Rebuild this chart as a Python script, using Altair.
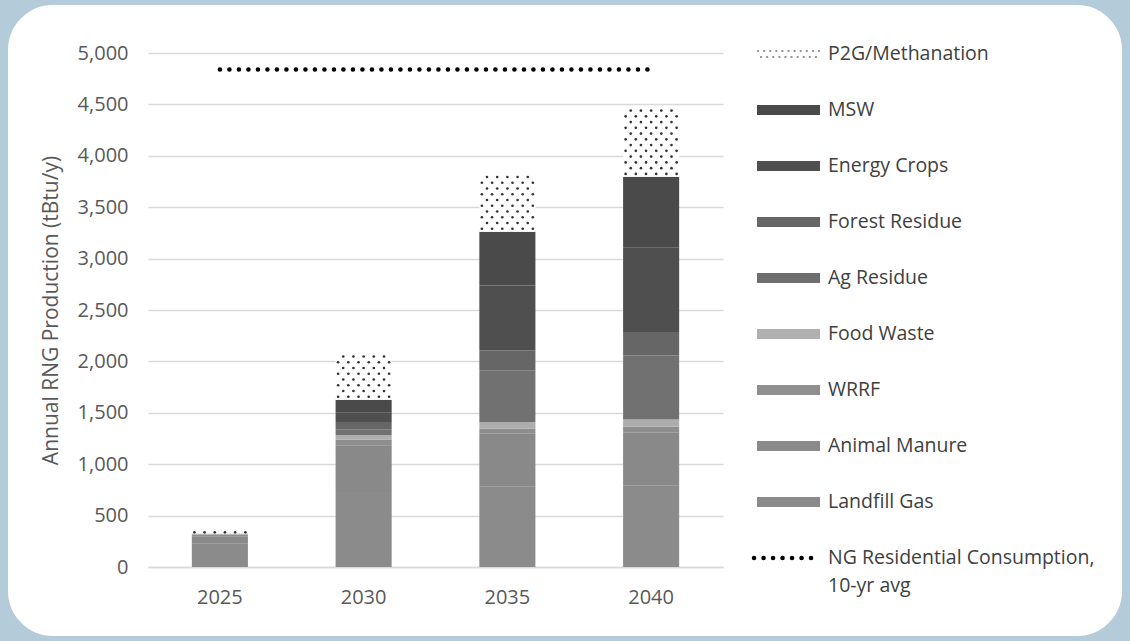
import altair as alt
import pandas as pd

# ---------------- data ----------------
years = ["2025", "2030", "2035", "2040"]
sources = ["Landfill Gas", "Animal Manure", "WRRF", "Food Waste", "Ag Residue",
           "Forest Residue", "Energy Crops", "MSW", "P2G/Methanation"]
landfill = [230, 730, 780, 790]
manure = [70, 455, 515, 515]
wrrf = [15, 55, 52, 60]
food = [10, 42, 64, 69]
ag = [0, 58, 502, 624]
forest = [0, 71, 194, 227]
energy = [0, 89, 631, 825]
msw = [0, 128, 524, 686]
p2g = [25, 452, 576, 673]
ng_avg = [4840, 4840, 4840, 4840]
colors = ["#8b8b8b", "#898989", "#8e8e8e", "#adadad", "#717171",
          "#666666", "#4f4f4f", "#4a4a4a", "#ffffff"]
legend_labels = ["P2G/Methanation", "MSW", "Energy Crops", "Forest Residue", "Ag Residue",
                 "Food Waste", "WRRF", "Animal Manure", "Landfill Gas",
                 "NG Residential Consumption,"]
legend_colors = ["#ffffff", "#4a4a4a", "#4f4f4f", "#666666", "#6e6e6e",
                 "#b0b0b0", "#8f8f8f", "#8a8a8a", "#8a8a8a", "#000000"]

series = [landfill, manure, wrrf, food, ag, forest, energy, msw, p2g]

rows = []
for si, (name, vals) in enumerate(zip(sources, series)):
    for yi, yr in enumerate(years):
        rows.append({"year": yr, "source": name, "value": vals[yi], "ord": si})
df = pd.DataFrame(rows)

# band layout (shared by bars and the dot pattern)
P_INNER = 0.61
P_OUTER = P_INNER / 2
BAND_FRAC = 1 - P_INNER  # bar width as a fraction of one category step

# dotted fill pattern for the P2G segments (derived from segment bounds)
dot_rows = []
for yi, yr in enumerate(years):
    base = sum(s[yi] for s in series[:-1])
    top = base + p2g[yi]
    ys = []
    k = 0
    while base + 28 + 56 * k <= top - 10:
        ys.append(base + 28 + 56 * k)
        k += 1
    if not ys:
        ys = [base + p2g[yi] / 2]
    for k, yv in enumerate(ys):
        cols = range(0, 11, 2) if k % 2 == 0 else range(1, 11, 2)
        for c in cols:
            dot_rows.append({"xpos": yi + (c - 5) * BAND_FRAC / 11, "y": yv})
dots_df = pd.DataFrame(dot_rows)

ng_df = pd.DataFrame({"year": years, "value": ng_avg})

leg_df = pd.DataFrame({"row": list(range(len(legend_labels))),
                       "label": legend_labels, "color": legend_colors})

# ---------------- styling ----------------
FONT = "Open Sans"
TXT = "#595959"
xscale = alt.Scale(type="band", domain=years, paddingInner=P_INNER, paddingOuter=P_OUTER)
yscale = alt.Scale(domain=[0, 5000], nice=False)
xaxis = alt.Axis(title=None, labelAngle=0, labelFontSize=20, labelColor=TXT,
                 labelFont=FONT, labelPadding=20, ticks=False, domainColor="#d9d9d9",
                 domainWidth=1.5, grid=False)
yaxis = alt.Axis(title="Annual RNG Production (tBtu/y)", values=list(range(0, 5001, 500)),
                 format=",.0f", labelFontSize=20, labelColor=TXT, labelFont=FONT,
                 labelPadding=20, ticks=False, domain=False, gridColor="#d9d9d9",
                 gridWidth=1.5, titleFont=FONT, titleFontSize=21, titleColor=TXT,
                 titleFontWeight="normal", titlePadding=16)

bars = alt.Chart(df).mark_bar(width=alt.RelativeBandSize(1.0)).encode(
    x=alt.X("year:O", scale=xscale, axis=xaxis),
    y=alt.Y("value:Q", stack="zero", scale=yscale, axis=yaxis),
    color=alt.Color("source:N", scale=alt.Scale(domain=sources, range=colors), legend=None),
    order=alt.Order("ord:Q"),
)

ng = alt.Chart(ng_df).mark_line(color="black", strokeWidth=4.5, strokeDash=[0.1, 9.4],
                                strokeCap="round").encode(
    x=alt.X("year:O", scale=xscale, axis=xaxis, bandPosition=0.5),
    y=alt.Y("value:Q", scale=yscale, axis=yaxis),
)

main = alt.layer(bars, ng)

dots = alt.Chart(dots_df).mark_circle(size=7, color="#333333", opacity=1).encode(
    x=alt.X("xpos:Q", scale=alt.Scale(domain=[-0.5, len(years) - 0.5], nice=False, zero=False),
            axis=None),
    y=alt.Y("y:Q", scale=yscale, axis=None),
)

# ---------------- custom legend ----------------
LFS = 19.5
lscale = alt.Scale(domain=[0, 9], range=[1, 505])
sw_df = leg_df[(leg_df.row >= 1) & (leg_df.row <= 8)]
swatches = alt.Chart(sw_df).mark_rule(strokeWidth=10).encode(
    x=alt.value(609), x2=alt.value(672),
    y=alt.Y("row:Q", scale=lscale, axis=None),
    color=alt.Color("color:N", scale=None),
)
p2g_sym1 = alt.Chart(leg_df[leg_df.row == 0]).mark_rule(
    strokeWidth=2.2, strokeDash=[0.1, 6], strokeCap="round", color="#8a8a8a", yOffset=-3
).encode(x=alt.value(610), x2=alt.value(672), y=alt.Y("row:Q", scale=lscale, axis=None))
p2g_sym2 = alt.Chart(leg_df[leg_df.row == 0]).mark_rule(
    strokeWidth=2.2, strokeDash=[0.1, 6], strokeCap="round", color="#8a8a8a", yOffset=3
).encode(x=alt.value(613), x2=alt.value(672), y=alt.Y("row:Q", scale=lscale, axis=None))
ng_sym = alt.Chart(leg_df[leg_df.row == 9]).mark_rule(
    strokeWidth=4.5, strokeDash=[0.1, 9.4], strokeCap="round", color="black"
).encode(x=alt.value(606), x2=alt.value(672), y=alt.Y("row:Q", scale=lscale, axis=None))
labels = alt.Chart(leg_df).mark_text(align="left", baseline="middle", fontSize=LFS,
                                     font=FONT, color="#404040").encode(
    x=alt.value(680), y=alt.Y("row:Q", scale=lscale, axis=None), text="label:N")
label2 = alt.Chart(leg_df[leg_df.row == 9]).mark_text(
    align="left", baseline="middle", fontSize=LFS, font=FONT, color="#404040", dy=28,
    text="10-yr avg").encode(x=alt.value(680), y=alt.Y("row:Q", scale=lscale, axis=None))

legend = alt.layer(swatches, p2g_sym1, p2g_sym2, ng_sym, labels, label2)

# ---------------- frame (blue border with rounded white panel) ----------------
frame = alt.Chart(pd.DataFrame({"a": [0]})).mark_rect(
    filled=False, stroke="#b4cbd9", strokeWidth=200, cornerRadius=145
).encode(x=alt.value(-240), x2=alt.value(1074), y=alt.value(-148), y2=alt.value(683))

chart = alt.layer(main, dots, legend, frame).resolve_scale(
    x="independent", y="independent", color="independent"
).properties(
    width=575, height=514,
    autosize=alt.AutoSizeParams(type="none"),
    padding={"left": 148, "top": 53, "right": 407, "bottom": 74},
    background="#ffffff",
).configure_view(stroke=None)

chart.save("out.html", embed_options={"renderer": "svg", "actions": False})
